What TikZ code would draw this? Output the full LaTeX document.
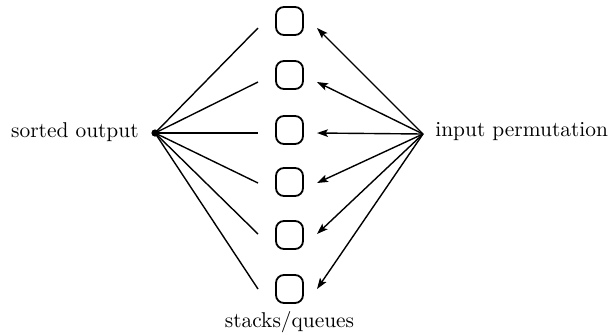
\documentclass[tikz,border=0pt]{standalone}
\usetikzlibrary{arrows.meta}
\begin{document}
\begin{tikzpicture}[x=0.5pt,y=-0.5pt,
  cell/.style={draw,line width=0.9pt,rounded corners=4pt,minimum width=13.5pt,minimum height=14pt,inner sep=0pt},
  feed/.style={line width=0.7pt},
  push/.style={line width=0.7pt,-{Stealth[length=5.5pt,width=3.8pt,inset=1.2pt]}},
  lbl/.style={font=\fontsize{10.7}{13}\selectfont,inner sep=0pt}]
\useasboundingbox (0,0) rectangle (612,334);
% the six stacks/queues
\foreach \i/\y in {1/21,2/75,3/130,4/182,5/235,6/289}
  \node[cell] (c\i) at (289.5,\y) {};
% end points of the connectors beside each cell
\foreach \i/\y in {1/28,2/82,3/133,4/183,5/234,6/289}{
  \coordinate (l\i) at (258,\y);
  \coordinate (r\i) at (317,\y);
}
\coordinate (L) at (155,133);
\coordinate (R) at (423,134);
\node[lbl,anchor=east] (out) at (139,132) {sorted output};
\node[lbl,anchor=west] (in) at (435,132) {input permutation};
\node[lbl] (sq) at (289.5,322) {stacks/queues};
\foreach \i in {1,...,6}{
  \draw[feed] (L) -- (l\i);
  \draw[push] (R) -- (r\i);
}
\fill (L) circle (1.8pt);
\end{tikzpicture}
\end{document}
